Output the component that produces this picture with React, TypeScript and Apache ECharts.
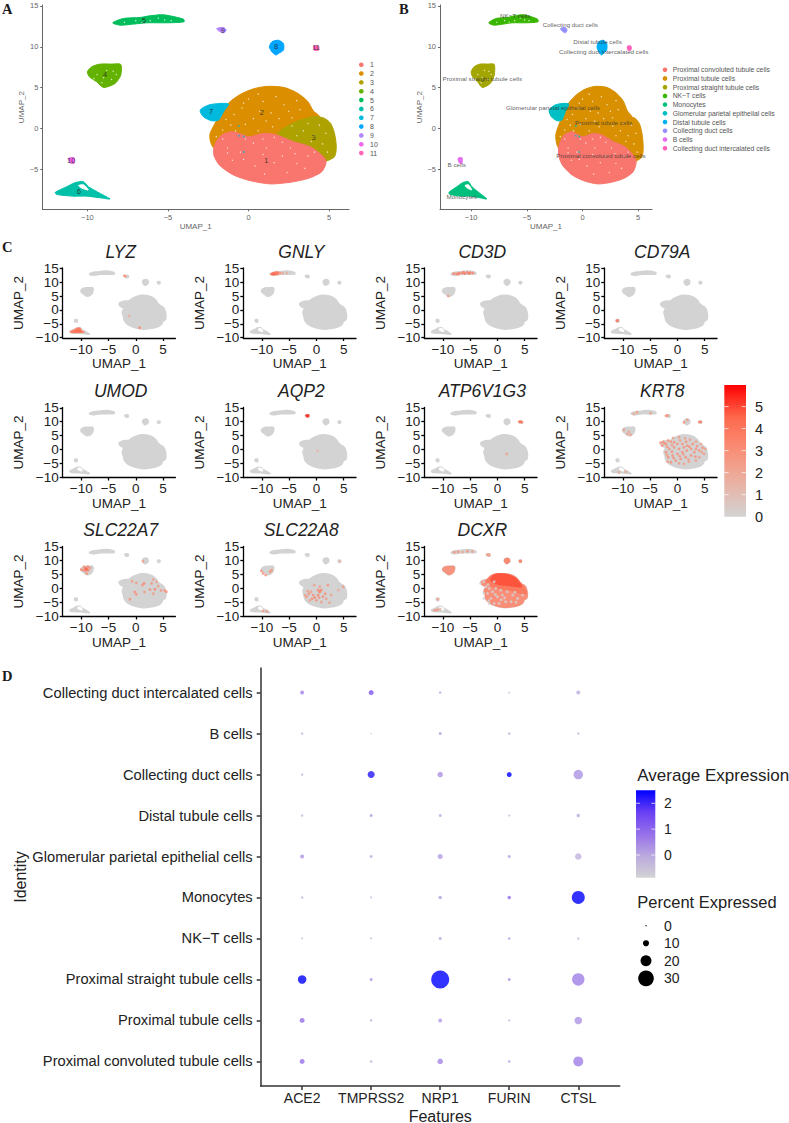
import React, { useEffect, useRef } from "react";
import * as echarts from "echarts";

type Pt = number[];

// ---- cluster outlines, in UMAP units ----
const cluster1: Pt[] = [[-2.1,-2.04],[-1.66,-0.82],[-0.93,-0.41],[0,-1.02],[0.93,-0.61],[1.76,-0.82],[2.8,-1.63],[3.83,-2.24],[4.55,-3.27],[4.82,-4.08],[4.55,-5.31],[3.72,-6.12],[2.59,-6.6],[1.35,-6.8],[0.1,-6.4],[-0.93,-5.71],[-1.8,-4.5],[-2.15,-3.27]];
const cluster2: Pt[] = [[-2.38,-0.61],[-2.02,0.82],[-1.7,1.84],[-1.24,3.1],[-0.52,4.15],[0.31,4.85],[1.14,5.15],[2.17,5.03],[3,4.37],[3.66,3.35],[4.03,2.14],[4.4,1.5],[4.5,0],[3.2,-2],[1,-2.6],[-1,-2.7],[-2.15,-2.4],[-2.38,-1.43]];
const cluster3: Pt[] = [[1.76,-0.82],[2.17,0],[3.21,1.02],[4.14,1.45],[4.7,1.25],[5.1,0.61],[5.34,-0.61],[5.45,-2.24],[5.34,-3.47],[4.8,-4],[4.4,-3.9],[3,-3],[1.8,-2]];
const cluster4: Pt[] = [[-10,6.94],[-9.73,7.55],[-9.21,7.88],[-8.5,7.88],[-7.93,7.84],[-7.93,6.53],[-8.28,5.51],[-9,5.02],[-9.42,5.71],[-9.88,6.33]];
const cluster5: Pt[] = [[-8.43,12.94],[-7.76,13.47],[-6.73,13.59],[-6.11,13.8],[-5.28,13.92],[-4.04,13.39],[-4,13.06],[-5.07,12.94],[-6.31,12.94],[-7.14,12.78],[-7.97,12.65]];
const cluster6: Pt[] = [[-12,-7.84],[-11.28,-7.14],[-10.77,-6.65],[-10.25,-6.53],[-9.94,-7.14],[-9.21,-7.96],[-8.59,-8.65],[-9.21,-8.5],[-10.04,-8.3],[-10.87,-8.3],[-11.9,-8.1]];
const cluster6Hole: Pt[] = [[-10.55,-7],[-10.25,-6.9],[-10.05,-7.25],[-9.95,-7.55],[-10.35,-7.3]];
const cluster7: Pt[] = [[-3,2.24],[-2.48,2.86],[-1.76,3.06],[-1.24,2.98],[-1.55,2.04],[-1.86,1.02],[-2.28,0.94],[-2.8,1.43]];
const cluster8: Pt[] = [[1.3,10],[1.45,10.6],[1.86,10.8],[2.17,10.4],[2.17,9.6],[1.86,9.18],[1.7,9],[1.45,9.39]];
const cluster9: Pt[] = [[-1.97,12.24],[-1.55,12.37],[-1.39,12.04],[-1.55,11.71],[-1.86,11.96]];
const cluster10: Pt[] = [[-11.18,-3.67],[-10.83,-3.59],[-10.83,-4.29],[-11.08,-4.2]];
const cluster11: Pt[] = [[4.04,10.08],[4.35,10.08],[4.35,9.59],[4.08,9.59]];
const clusterShapes: Pt[][] = [cluster1, cluster2, cluster3, cluster4, cluster5, cluster6, cluster7, cluster8, cluster9, cluster10, cluster11];
const drawOrder = [1, 2, 0, 3, 4, 5, 6, 7, 8, 9, 10];

// white gaps between the points of the big clouds
const specks: Pt[] = [[-1.1,0.4],[-0.4,2.5],[0.3,1.2],[0.9,3.3],[1.4,1.9],[2.2,2.9],[2.7,1.3],[3.2,2.3],[-0.8,-0.3],[0.6,-0.3],[1.5,0.2],[0.3,-1.8],[-0.5,-2.9],[1.1,-2.4],[2.1,-1.7],[2.9,-3.1],[1.6,-4.2],[0.4,-4.6],[-1,-3.9],[3.4,-0.3],[4.1,-0.9],[4.6,-1.9],[3.7,0.6],[-9.4,6.6],[-8.8,7.1],[-8.5,6],[-9,6.2],[-7,13.2],[-6.1,13.2],[-5.2,13.3],[2.4,-5.4],[3.5,-4.9],[-1.6,-0.2],[-2,-1],[0,3.6],[-1.4,1.1],[-0.9,1.7],[-0.2,0.5],[0.7,2.1],[1.1,0.9],[1.9,1.2],[2.5,2.1],[3,3.4],[1.7,3.9],[0.6,4.2],[-0.3,3.1],[-1.6,-1.3],[-1.3,-2.4],[-0.2,-1.3],[0.9,-1.3],[1.6,-1.1],[2.6,-2.4],[3.7,-3.4],[0.9,-3.2],[-0.3,-3.8],[-1.3,-3],[1,-5.6],[2.1,-3.4],[3,-4.3],[4.1,-2.9],[4.8,-0.6],[3.9,-1.6],[3,-0.9],[2.7,0.3],[4.4,0.4],[4.9,-2.9],[-9.6,6.1],[-9.1,5.6],[-8.4,7],[-8.2,6.6],[-7.7,13],[-6.6,13],[-5.6,13.5],[-4.8,13.2]];
const strays: Pt[] = [[-0.6,-0.9],[-0.3,-2.9],[-0.6,0.3],[-0.3,-1]];

// ---- panel A ----
const colorsA = ["#F8766D","#DB8E00","#AEA200","#64B200","#00BD5C","#00C1A7","#00BADE","#00A6FF","#B385FF","#EF67EB","#FF63B6"];
const legendA = ["1","2","3","4","5","6","7","8","9","10","11"];
const labelPosA: Pt[] = [[1.1,-3.9],[0.83,1.96],[4.04,-1.1],[-8.9,6.65],[-6.5,13.27],[-10.54,-7.76],[-2.32,2.12],[1.72,10],[-1.6,12.04],[-11,-3.92],[4.2,9.88]];

// ---- panel B ----
const colorsB = ["#F8766D","#D89000","#A3A500","#39B600","#00BF7D","#00BFC4","#00B0F6","#9590FF","#E76BF3","#FF62BC"];
const cellTypes = ["Proximal convoluted tubule cells","Proximal tubule cells","Proximal straight tubule cells","NK\u2212T cells","Monocytes","Glomerular parietal epithelial cells","Distal tubule cells","Collecting duct cells","B cells","Collecting duct intercalated cells"];
const clusterTypeB = [0,1,1,2,3,4,5,6,7,8,9];
const labelPosB: Pt[] = [[1.65,-3.35],[1.9,0.7],[-9,6.1],[-6.05,13.8],[-10.85,-8.35],[-2.65,2.6],[1.35,10.6],[-1.1,12.7],[-11.3,-4.45],[1.9,9.4]];

// ---- panel C: expressing cells per gene, [UMAP_1, UMAP_2, expression] ----
const lyzSpots: Pt[] = [[-10.6,-7.5,4.5],[-10.2,-7.7,4.5],[-11,-7.7,4.5],[-11.5,-7.8,4],[-10.5,-7,4],[-2.1,12.3,3],[-1.9,12.1,2.5],[-1.2,-2.2,1.8],[0.7,-6.4,3.5]];
const lyzAreas: { v: number; pts: Pt[] }[] = [{ v: 3.2, pts: [[-12,-7.8],[-11.2,-7.1],[-10.7,-6.6],[-10.2,-6.6],[-9.9,-7.6],[-9.5,-8],[-10.5,-8.1],[-11.9,-8]] }];
const gnlySpots: Pt[] = [[-8,13,4.5],[-7.7,13.1,5],[-7.3,13.3,4],[-7.7,13.3,3.5],[-6.7,13.3,3],[-6.2,13.2,2.2],[-5.4,13.3,1.8]];
const gnlyAreas: { v: number; pts: Pt[] }[] = [{ v: 3.2, pts: [[-8.4,12.9],[-7.7,13.5],[-7,13.6],[-7,12.8],[-8,12.7]] }];
const cd3dSpots: Pt[] = [[-8,13.1,3.5],[-7.5,13,3.5],[-7,13.2,4],[-6.5,13.3,3.5],[-6,13.1,4],[-5.5,13.5,4],[-5,13.4,4],[-4.5,13.3,3.5],[-6.2,13.6,3.5],[-5.2,13.1,3.5],[-7.2,12.9,3.5],[-9,5,2.5]];
const cd79aSpots: Pt[] = [[-11.1,-3.9,4],[-10.9,-3.8,3.5]];
const umodSpots: Pt[] = [];
const aqp2Spots: Pt[] = [[-1.8,12.2,5.6],[-1.5,12.2,5.6],[-1.6,11.9,5.2],[0.2,-0.5,1.5]];
const atpSpots: Pt[] = [[4,10,4],[4.3,10,4.5],[4.5,9.8,4],[1.7,-1.6,2.5]];
const krt8Spots: Pt[] = [[-3.1,2.4,3],[-2.6,2.8,3],[-2.1,2,3],[-2.8,1.4,3],[-1.7,3.2,3],[-1.2,2.8,3],[-0.8,4.1,2.5],[0.3,4.4,2.5],[1.4,4,2.5],[2.3,3.5,2.5],[3.4,2.8,2.5],[4.3,2,2.5],[5.1,0.2,2.5],[4.9,-1.6,2.5],[4,-2.8,2.5],[3.4,-4,2.5],[1.8,1.4,3],[0.9,2,3],[0,2,3],[-0.6,0.8,3],[-1.5,0.2,3],[-2.1,-1,3],[-1.7,-2.8,3],[-0.9,-2.2,3],[0,-1.6,3],[0.9,-1,3],[1.7,-0.4,3],[2.5,0.2,3],[3.4,0.2,3],[4,-0.4,3],[0.6,-3.4,3],[-0.3,-4,3],[-1.2,-4.6,3],[1.5,-2.8,3],[2.5,-2.2,3],[3.1,-1,3],[0.3,0.2,3],[1.2,0.8,3],[2.8,2,3],[-0.6,2.6,3],[-1.8,-4.4,2.5],[2.1,-4.4,2.5],[1.2,-5.2,2.5],[-2.4,2.2,3],[-1.9,1,3],[-1,1.6,2.5],[0.5,3.2,2.5],[1.6,2.8,3],[2.2,1,3],[3.6,1.2,3],[4.6,0.6,3],[-1,-0.8,3],[0.4,-2.4,3],[1.1,-1.8,2.5],[2,-3.6,2.5],[3.3,-2.6,3],[4.5,-1,2.5],[-0.7,-3.1,3],[0.3,-5,2.5],[-1.9,-1.9,2.5],[-9.2,5.6,2.5],[-8.6,5.3,2.5],[-9.8,7.1,2.5],[-8.9,6.4,2],[-7.4,13.4,2.5],[-4.9,13,2.5],[-8,12.8,2],[-2.1,12.1,3],[-1.8,12.2,3],[1.2,9.8,3],[1.8,10.7,2.5],[4,9.9,3.5],[4.3,9.9,3.5],[-10.7,-8.2,2],[-9.5,-8,2]];
const slc7Spots: Pt[] = [[-9.2,7.2,5],[-9.6,6.6,3.5],[-8.7,6.6,3.5],[-10,6.8,3],[-9,5.4,3],[-8.4,7.4,3],[-9.5,7.8,3],[-8.8,7.8,3.5],[-9.2,6.4,3.5],[-9,6.9,4.5],[-0.7,2.6,2.5],[0.1,2,2.5],[1.5,1.8,3.5],[1.2,1.2,3],[2.9,1.8,3],[3.2,3.2,2.5],[3.8,2.4,2.5],[4.1,0.8,2.5],[2.6,-0.4,3],[3.5,-0.3,3.5],[4.6,-0.7,3],[5.3,-0.7,3],[5.6,-1.2,3],[-0.2,-1.3,3],[0.1,-2.1,3],[1.6,-1.3,2.5],[3.2,-1.9,2.5],[-1.1,-3.9,3],[1.3,9.8,2.5]];
const slc8Spots: Pt[] = [[-10.1,6.3,3],[-9.8,5.4,3],[-9.3,4.8,3],[-8.5,6,3],[-8.2,6.6,3],[0.6,-1.2,4],[0.3,-2.4,3.5],[-0.3,-3.3,3.5],[-0.6,-2.4,3],[-1.4,-1.9,3],[-1.6,-0.9,2.5],[-1.8,-3,3],[-1.2,-4.3,2.5],[0,-4.3,3],[0.9,-4.9,2.5],[1.2,-3,3],[1.6,-1.9,3],[2.1,1.2,3],[1.8,-3.7,2.5],[2.7,-2.4,2.5],[2.4,-5.1,2.5],[-0.4,1.2,2.5],[0.6,0.6,2.5],[4.9,0.6,2.5],[4,-0.6,2],[0.3,-0.6,3.5],[0.9,-0.6,3.5],[-0.8,-3.7,3],[-1,-1.2,2.5],[0.5,-3.3,3],[-2.1,-2.4,2.5],[-9.8,-8.1,2.5],[-9.1,-8.2,2.5],[4.3,9.8,1.5]];
const dcxrSpots: Pt[] = [[-3.1,1.8,0],[-2.5,2.4,0],[-2.1,0.6,0],[-1.5,0,0],[-0.9,-1.2,0],[-1.8,-1.8,0],[-2.5,-3.6,0],[-1.2,-3.6,0],[0,-3,0],[0.9,-2.4,0],[1.8,-1.2,0],[2.8,-2.4,0],[3.7,-3.6,0],[4.6,-2.4,0],[0.3,-5.4,0],[-0.6,-5.4,0],[1.5,-4.8,0],[-1.5,-5.4,0],[2.5,-4.8,0],[-2.5,-1.8,0],[0.6,-0.6,0],[-0.3,0,0],[-0.6,2.4,0],[-1.7,1.4,0],[-0.4,-2.2,0],[1.3,-3.4,0],[3.2,-1.4,0],[-1.6,-4.4,0],[0.7,-4.1,0],[3.4,-5,0],[-7.9,13,3],[-7.2,13.2,3],[-6.4,13.1,2],[-5.5,13.4,3],[-4.6,13.3,2.5],[-11.5,-7.9,3],[-11,-7.7,3],[-10.5,-7.4,1.5],[-10.9,-3.9,2.5]];
const dcxrAreas: { v: number; pts: Pt[] }[] = [
  { v: 3, pts: cluster2 }, { v: 3, pts: cluster3 }, { v: 3, pts: cluster1 }, { v: 3, pts: cluster7 },
  { v: 3.8, pts: [[-2,2.5],[-1,4.8],[1,5.2],[3,4.2],[4.2,2],[5.2,-1],[5.2,-2],[4,-1.5],[2,-0.5],[0,0],[-1,0.8]] },
  { v: 4.8, pts: [[-1.2,3.2],[-0.4,4.9],[1.2,5.1],[2.9,4.1],[4,2],[4.4,0.6],[3.2,0.8],[1.4,1.2],[-0.2,1.8]] },
  { v: 2.8, pts: cluster4 }, { v: 3.2, pts: cluster8 }, { v: 2.2, pts: cluster9 }, { v: 3.2, pts: cluster11 },
];

const featureNames = ["LYZ","GNLY","CD3D","CD79A","UMOD","AQP2","ATP6V1G3","KRT8","SLC22A7","SLC22A8","DCXR"];
const featureSpots = [lyzSpots,gnlySpots,cd3dSpots,cd79aSpots,umodSpots,aqp2Spots,atpSpots,krt8Spots,slc7Spots,slc8Spots,dcxrSpots];
const featureAreas = [lyzAreas,gnlyAreas,[],[],[],[],[],[],[],[],dcxrAreas];
const umapTicksX = [-10,-5,0,5];
const umapTicksY = [-10,-5,0,5,10,15];
const expressionTicks = [0,1,2,3,4,5];
const redStops = ["#d3d3d3","#e8b3a4","#f98f78","#fd6a4e","#ff0000"];

// ---- panel D ----
const identities = ["Collecting duct intercalated cells","B cells","Collecting duct cells","Distal tubule cells","Glomerular parietal epithelial cells","Monocytes","NK\u2212T cells","Proximal straight tubule cells","Proximal tubule cells","Proximal convoluted tubule cells"];
const genes = ["ACE2","TMPRSS2","NRP1","FURIN","CTSL"];
const pctACE2 = [5.6,2.5,2.5,2.5,5.6,2.5,1.5,15,7.7,7.7];
const pctTMPRSS2 = [7.7,0.4,11.9,3.5,3.5,1.5,1.5,3.5,2.5,2.5];
const pctNRP1 = [2.5,3.5,8.8,3.5,7.7,4.6,3.5,34.8,5.6,8.8];
const pctFURIN = [1.5,2.5,7.7,1.5,3.5,4.6,2.5,3.5,1.5,2.5];
const pctCTSL = [5.6,2.5,17,4.6,10.8,24.4,2.5,23.3,12.9,18.1];
const avgACE2 = [0.5,-0.3,-0.3,-0.3,0.3,-0.3,-0.4,2.5,0.8,0.8];
const avgTMPRSS2 = [1.3,-0.5,2.2,0.2,-0.1,-0.3,-0.3,0.3,-0.2,-0.2];
const avgNRP1 = [0,0.2,0.3,0,0.2,0.1,0.1,2.5,0.2,0.5];
const avgFURIN = [-0.4,-0.1,2.5,-0.2,0.2,0.9,0.3,0.3,-0.1,0.1];
const avgCTSL = [-0.1,-0.4,0.3,0,-0.2,2.5,-0.4,0.6,0.3,0.6];
const pctByGene = [pctACE2,pctTMPRSS2,pctNRP1,pctFURIN,pctCTSL];
const avgByGene = [avgACE2,avgTMPRSS2,avgNRP1,avgFURIN,avgCTSL];
const avgTicks = [2,1,0];
const pctTicks = [0,10,20,30];
const blueStops = ["#d3d3d3","#bba9df","#9670ea","#6a40f4","#0000ff"];

const SANS = "'Liberation Sans', Arial, sans-serif";
const SERIF = "'Liberation Serif', 'Times New Roman', serif";
const minus = (v: number) => String(v).replace("-", "\u2212");
const redAt = (v: number) => echarts.color.lerp(Math.min(1, Math.max(0, v / 5.98)), redStops) as string;
const blueAt = (v: number) => echarts.color.lerp(Math.min(1, Math.max(0, (v + 0.87) / 3.37)), blueStops) as string;
const diam = (pct: number) => 1.3 + 0.48 * pct;

function polygons(xi: number, shapes: Pt[][], fills: string[], strokeW: number) {
  return {
    type: "custom", coordinateSystem: "cartesian2d", xAxisIndex: xi, yAxisIndex: xi, silent: true, clip: false,
    data: shapes.map((s) => s[0].slice(0, 2)),
    renderItem: (p: any, api: any) => ({
      type: "polygon",
      shape: { points: shapes[p.dataIndex].map((q) => api.coord(q)), smooth: 0.25 },
      style: { fill: fills[p.dataIndex], stroke: fills[p.dataIndex], lineWidth: strokeW },
    }),
  };
}

function axes(gi: number, box: any, o: any) {
  const line = { show: true, onZero: false, lineStyle: { color: o.lineColor, width: o.lineWidth } };
  const x = {
    type: "value", gridIndex: gi, min: box.xMin, max: box.xMax, splitLine: { show: false }, axisLine: line,
    axisTick: { show: true, length: o.tick, customValues: umapTicksX, lineStyle: { color: o.lineColor, width: o.lineWidth } },
    axisLabel: { customValues: umapTicksX, formatter: minus, fontSize: o.size, color: o.textColor, margin: o.xMargin, fontFamily: SANS },
    name: "UMAP_1", nameLocation: "middle", nameGap: o.xGap, nameTextStyle: { fontSize: o.nameSize, color: o.textColor, fontFamily: SANS },
  };
  const y = {
    type: "value", gridIndex: gi, min: box.yMin, max: box.yMax, splitLine: { show: false }, axisLine: line,
    axisTick: { show: true, length: o.tick, customValues: umapTicksY, lineStyle: { color: o.lineColor, width: o.lineWidth } },
    axisLabel: { customValues: umapTicksY, formatter: minus, fontSize: o.size, color: o.textColor, margin: o.yMargin, fontFamily: SANS },
    name: "UMAP_2", nameLocation: "middle", nameGap: o.yGap, nameTextStyle: { fontSize: o.nameSize, color: o.textColor, fontFamily: SANS },
  };
  return { x, y };
}

function txt(text: string, x: number, y: number, size: number, extra: any = {}) {
  const align = extra.align ?? "left";
  return {
    type: "text", x, y, silent: true,
    style: {
      text, fill: extra.fill ?? "#222", fontSize: size, fontFamily: extra.family ?? SANS, fontWeight: extra.weight ?? "normal",
      align, textAlign: align, verticalAlign: "middle", textVerticalAlign: "middle",
    },
  };
}

function buildOption() {
  const grid: any[] = [], xAxis: any[] = [], yAxis: any[] = [], series: any[] = [], graphic: any[] = [], title: any[] = [];
  const fixedGrid = { outerBoundsMode: "none" };

  // A and B
  const abStyle = { lineColor: "#666", lineWidth: 1, textColor: "#666", size: 7.5, nameSize: 8, tick: 2, xMargin: 4, yMargin: 4, xGap: 6, yGap: 13 };
  const abBox = { xMin: -12.8, xMax: 6.24, yMin: -9.91, yMax: 15.12 };
  grid.push({ ...fixedGrid, left: 42.3, top: 5, width: 306.7, height: 204.3 }, { ...fixedGrid, left: 440, top: 5, width: 212, height: 204.3 });
  [0, 1].forEach((i) => {
    const a = axes(i, abBox, abStyle);
    xAxis.push(a.x); yAxis.push(a.y);
  });
  const shapes = [...drawOrder.map((k) => clusterShapes[k]), cluster6Hole];
  series.push(polygons(0, shapes, [...drawOrder.map((k) => colorsA[k]), "#fff"], 1));
  series.push(polygons(1, shapes, [...drawOrder.map((k) => colorsB[clusterTypeB[k]]), "#fff"], 1));
  [0, 1].forEach((i) => {
    series.push({ type: "scatter", xAxisIndex: i, yAxisIndex: i, silent: true, symbolSize: 1.4, itemStyle: { color: "#fff", opacity: 0.7 }, data: specks });
    series.push({ type: "scatter", xAxisIndex: i, yAxisIndex: i, silent: true, symbolSize: 1.8, itemStyle: { color: i ? colorsB[5] : colorsA[6] }, data: strays });
  });
  series.push({
    type: "scatter", xAxisIndex: 0, yAxisIndex: 0, silent: true, symbolSize: 1, itemStyle: { color: "transparent" },
    label: { show: true, position: "inside", formatter: "{b}", fontSize: 7.5, color: "#222", fontFamily: SANS },
    data: legendA.map((n, i) => ({ name: n, value: labelPosA[i] })),
  });
  series.push({
    type: "scatter", xAxisIndex: 1, yAxisIndex: 1, silent: true, symbolSize: 1, itemStyle: { color: "transparent" },
    label: { show: true, position: "inside", formatter: "{b}", fontSize: 6.25, color: "#333", fontFamily: SANS },
    data: cellTypes.map((n, i) => ({ name: n, value: labelPosB[i] })),
  });
  legendA.forEach((n, i) => {
    const y = 64.7 + i * 8.84;
    graphic.push({ type: "circle", silent: true, shape: { cx: 361.3, cy: y, r: 2.3 }, style: { fill: colorsA[i] } });
    graphic.push(txt(n, 370, y, 7, { fill: "#555" }));
  });
  cellTypes.forEach((n, i) => {
    const y = 69.7 + i * 8.73;
    graphic.push({ type: "circle", silent: true, shape: { cx: 665, cy: y, r: 2.3 }, style: { fill: colorsB[i] } });
    graphic.push(txt(n, 672.7, y, 6.8, { fill: "#555" }));
  });

  // C
  const colLeft = [62.7, 243.3, 424.3, 604.3];
  const rowTop = [268, 407.5, 546.5];
  const cBox = { xMin: -13.4, xMax: 7.25, yMin: -10.1, yMax: 15.1 };
  const cStyle = { lineColor: "#000", lineWidth: 1.3, textColor: "#222", size: 13.5, nameSize: 13.5, tick: 3, xMargin: 4, yMargin: 4, xGap: 17, yGap: 37 };
  const greyFills = shapes.map((_, i) => (i === shapes.length - 1 ? "#fff" : "#d3d3d3"));
  featureNames.forEach((name, f) => {
    const gi = 2 + f;
    const left = colLeft[f % 4], top = rowTop[Math.floor(f / 4)];
    grid.push({ ...fixedGrid, left, top, width: 112.7, height: 70 });
    const a = axes(gi, cBox, cStyle);
    xAxis.push(a.x); yAxis.push(a.y);
    series.push(polygons(gi, shapes, greyFills, 2.2));
    const areas: any[] = featureAreas[f];
    if (areas.length) series.push(polygons(gi, areas.map((h) => h.pts), areas.map((h) => redAt(h.v)), 1.5));
    const spots = featureSpots[f];
    if (spots.length) {
      series.push({
        type: "scatter", xAxisIndex: gi, yAxisIndex: gi, silent: true, symbolSize: 2.8,
        itemStyle: { color: (p: any) => redAt(p.value[2]) }, data: spots,
      });
    }
    title.push({
      text: name, left: left + 58, top: top - 25.5, textAlign: "center", padding: 0,
      textStyle: { fontSize: 17.5, fontStyle: "italic", fontWeight: "normal", color: "#222", fontFamily: SANS },
    });
  });
  graphic.push({
    type: "rect", silent: true, shape: { x: 724.3, y: 385, width: 21.7, height: 131.7 },
    style: { fill: new echarts.graphic.LinearGradient(0, 1, 0, 0, redStops.map((c, i) => ({ offset: i / 4, color: c }))) },
  });
  expressionTicks.forEach((v) => {
    const y = 516.7 - (v / 5.98) * 131.7;
    if (v > 0) {
      graphic.push({ type: "line", silent: true, shape: { x1: 724.3, y1: y, x2: 728.6, y2: y }, style: { stroke: "#fff", lineWidth: 0.7 } });
      graphic.push({ type: "line", silent: true, shape: { x1: 741.7, y1: y, x2: 746, y2: y }, style: { stroke: "#fff", lineWidth: 0.7 } });
    }
    graphic.push(txt(String(v), 755, y, 14.5));
  });

  // D
  const di = 2 + featureNames.length;
  const dLine = { color: "#333", width: 1.5 };
  grid.push({ ...fixedGrid, left: 260.7, top: 668, width: 359, height: 418 });
  xAxis.push({
    type: "value", gridIndex: di, min: -0.6, max: 4.6, splitLine: { show: false }, axisLine: { show: true, onZero: false, lineStyle: dLine },
    axisTick: { show: true, length: 4, customValues: genes.map((_, i) => i), lineStyle: dLine },
    axisLabel: { customValues: genes.map((_, i) => i), formatter: (v: number) => genes[v] ?? "", fontSize: 14, color: "#222", margin: 5, fontFamily: SANS },
    name: "Features", nameLocation: "middle", nameGap: 22, nameTextStyle: { fontSize: 16, color: "#222", fontFamily: SANS },
  });
  const rowOf = (i: number) => identities.length - 1 - i;
  yAxis.push({
    type: "value", gridIndex: di, min: -0.6, max: 9.6, splitLine: { show: false }, axisLine: { show: true, onZero: false, lineStyle: dLine },
    axisTick: { show: true, length: 4, customValues: identities.map((_, i) => i), lineStyle: dLine },
    axisLabel: { customValues: identities.map((_, i) => i), formatter: (v: number) => identities[rowOf(v)] ?? "", fontSize: 14.7, color: "#222", margin: 8, fontFamily: SANS },
    name: "Identity", nameLocation: "middle", nameGap: 230, nameTextStyle: { fontSize: 16, color: "#222", fontFamily: SANS },
  });
  const dots: number[][] = [];
  genes.forEach((_, g) => identities.forEach((__, i) => dots.push([g, rowOf(i), pctByGene[g][i], avgByGene[g][i]])));
  series.push({
    type: "scatter", xAxisIndex: di, yAxisIndex: di, silent: true,
    symbolSize: (v: number[]) => diam(v[2]),
    itemStyle: { color: (p: any) => blueAt(p.value[3]) },
    data: dots,
  });
  graphic.push(txt("Average Expression", 637.3, 775, 17));
  graphic.push({
    type: "rect", silent: true, shape: { x: 636, y: 790.3, width: 19.3, height: 87.4 },
    style: { fill: new echarts.graphic.LinearGradient(0, 1, 0, 0, blueStops.map((c, i) => ({ offset: i / 4, color: c }))) },
  });
  avgTicks.forEach((v) => {
    const y = 855 - v * 25.85;
    graphic.push({ type: "line", silent: true, shape: { x1: 636, y1: y, x2: 640, y2: y }, style: { stroke: "#fff", lineWidth: 0.7 } });
    graphic.push({ type: "line", silent: true, shape: { x1: 651.3, y1: y, x2: 655.3, y2: y }, style: { stroke: "#fff", lineWidth: 0.7 } });
    graphic.push(txt(String(v), 664, y, 14));
  });
  graphic.push(txt("Percent Expressed", 637.3, 901.7, 16.5));
  pctTicks.forEach((v, i) => {
    const y = 925.7 + i * 17.55;
    graphic.push({ type: "circle", silent: true, shape: { cx: 646, cy: y, r: diam(v) / 2 }, style: { fill: "#000" } });
    graphic.push(txt(String(v), 664, y, 14));
  });

  // panel letters
  [["A", 2, 9], ["B", 399, 9], ["C", 2, 247], ["D", 2, 676]].forEach(([t, x, y]) => {
    graphic.push(txt(t as string, x as number, y as number, 14.5, { family: SERIF, weight: "bold", fill: "#1a1a1a" }));
  });

  return { animation: false, backgroundColor: "#fff", grid, xAxis, yAxis, series, graphic, title };
}

export default function App() {
  const ref = useRef<HTMLDivElement>(null);
  useEffect(() => {
    const chart = echarts.init(ref.current!, undefined, { renderer: "svg" });
    chart.setOption(buildOption() as any);
    return () => chart.dispose();
  }, []);
  return <div ref={ref} style={{ position: "absolute", left: 0, top: 0, width: 789, height: 1123 }} />;
}
